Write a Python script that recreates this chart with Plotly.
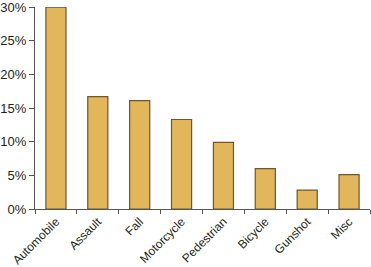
import plotly.graph_objects as go

categories = ["Automobile", "Assault", "Fall", "Motorcycle", "Pedestrian", "Bicycle", "Gunshot", "Misc"]
values = [30.0, 16.7, 16.1, 13.3, 9.9, 6.0, 2.8, 5.1]
y_ticks = [0, 5, 10, 15, 20, 25, 30]
y_tick_labels = ["0%", "5%", "10%", "15%", "20%", "25%", "30%"]

fig = go.Figure(go.Bar(
    x=categories, y=values,
    marker=dict(color="#E2B65B", line=dict(color="#6E5630", width=1.2)),
))
fig.update_layout(
    width=371, height=267,
    margin=dict(l=35, r=1, t=7, b=58),
    paper_bgcolor="white", plot_bgcolor="white",
    bargap=0.52, showlegend=False,
    font=dict(family="Liberation Sans, Arial, sans-serif", size=13, color="#231F20"),
)
fig.update_xaxes(
    tickangle=-45, showline=True, linecolor="#555", linewidth=1,
    ticks="outside", ticklen=4, tickcolor="#555", tickson="boundaries",
    showgrid=False, zeroline=False, automargin=False,
    tickfont=dict(size=12),
)
fig.update_yaxes(
    range=[0, 30.02], tickvals=y_ticks, ticktext=y_tick_labels,
    showline=True, linecolor="#555", linewidth=1,
    ticks="outside", ticklen=5, tickcolor="#555",
    showgrid=False, zeroline=False, automargin=False,
    ticklabeloverflow="allow",
)
fig.write_html("out.html")
